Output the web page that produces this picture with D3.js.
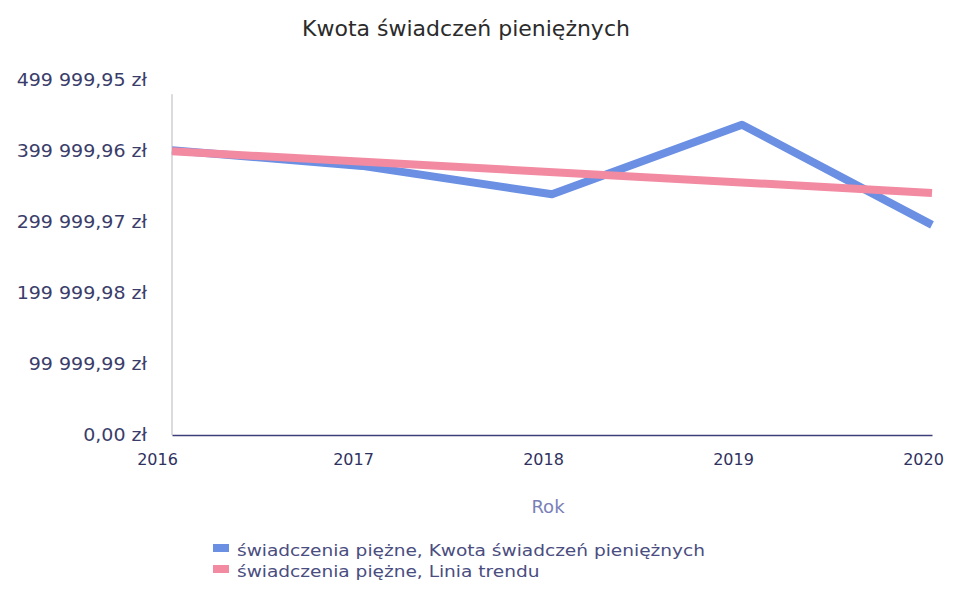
<!DOCTYPE html>
<html>
<head>
<meta charset="utf-8">
<script src="https://cdn.jsdelivr.net/npm/d3@7"></script>
<style>
  html, body { margin: 0; padding: 0; background: #fff; }
  svg { display: block; }
</style>
</head>
<body>
<div id="chart"></div>
<script>
(function () {
  'use strict';

  // Lata na osi X
  const years = [2016, 2017, 2018, 2019, 2020];
  // Kwota świadczeń pieniężnych
  const amounts = [401000, 379000, 339000, 437000, 296000];
  // Linia trendu — punkty końcowe
  const trendYears = [2016, 2020];
  const trendValues = [399500, 341000];
  // Znaczniki osi Y
  const yTicks = [0, 99999.99, 199999.98, 299999.97, 399999.96, 499999.95];
  const yTickLabels = ['0,00 zł', '99 999,99 zł', '199 999,98 zł', '299 999,97 zł', '399 999,96 zł', '499 999,95 zł'];
  const seriesNames = ['świadczenia piężne, Kwota świadczeń pieniężnych', 'świadczenia piężne, Linia trendu'];
  const seriesColors = ['#6a8fe3', '#f28aa2'];

  const FONT = "'DejaVu Sans', Verdana, sans-serif";
  const W = 953, H = 593;
  const svg = d3.select('#chart').append('svg').attr('width', W).attr('height', H);

  const x = d3.scalePoint().domain(years).range([172, 932]);
  const y = d3.scaleLinear().domain([0, 499999.95]).range([435, 80]);

  // Tytuł
  svg.append('text')
    .attr('x', 466).attr('y', 36)
    .attr('text-anchor', 'middle')
    .style('font-family', FONT)
    .style('font-size', '22px')
    .style('fill', '#2b2b2b')
    .text('Kwota świadczeń pieniężnych');

  // Oś Y (etykiety lekko rozciągnięte w poziomie jak na skanie)
  const yAxis = d3.axisLeft(y).tickValues(yTicks)
    .tickFormat((d, i) => yTickLabels[i]).tickSize(0).tickPadding(25);
  const gy = svg.append('g').attr('transform', 'translate(172,0)').call(yAxis);
  gy.select('.domain').remove();
  gy.selectAll('text')
    .style('font-family', FONT)
    .style('font-size', '17px')
    .style('fill', '#3a3d6a')
    .attr('transform', 'translate(-25,0) scale(1.12,1) translate(25,0)');

  svg.append('line')
    .attr('x1', 172).attr('x2', 172)
    .attr('y1', y(480000)).attr('y2', y(0))
    .attr('stroke', '#b8b8c0').attr('stroke-width', 1);

  // Oś X
  const xAxis = d3.axisBottom(x).tickSize(0).tickPadding(19);
  const gx = svg.append('g').attr('transform', `translate(0,${y(0)})`).call(xAxis);
  gx.select('.domain').attr('stroke', '#3d3f7a').attr('stroke-width', 1.5);
  gx.selectAll('text')
    .attr('dx', (d, i) => i === 0 ? -15 : -9)
    .style('font-family', FONT)
    .style('font-size', '16px')
    .style('fill', '#2f3160');

  svg.append('text')
    .attr('x', 548).attr('y', 513)
    .attr('text-anchor', 'middle')
    .style('font-family', FONT)
    .style('font-size', '18px')
    .style('fill', '#7a7fb8')
    .text('Rok');

  // Linie
  const line = d3.line().x(d => x(d[0])).y(d => y(d[1]));

  svg.append('path')
    .datum(years.map((yr, i) => [yr, amounts[i]]))
    .attr('d', line)
    .attr('fill', 'none')
    .attr('stroke', seriesColors[0])
    .attr('stroke-width', 8)
    .attr('stroke-linejoin', 'round');

  svg.append('path')
    .datum(trendYears.map((yr, i) => [yr, trendValues[i]]))
    .attr('d', line)
    .attr('fill', 'none')
    .attr('stroke', seriesColors[1])
    .attr('stroke-width', 8);

  // Legenda
  const leg = svg.append('g').attr('transform', 'translate(213,544)');
  seriesNames.forEach((name, i) => {
    const row = leg.append('g').attr('transform', `translate(0,${i * 21})`);
    row.append('rect').attr('width', 16).attr('height', 8).attr('fill', seriesColors[i]);
    row.append('text')
      .attr('x', 24).attr('y', 12)
      .attr('transform', 'translate(24,0) scale(1.16,1) translate(-24,0)')
      .style('font-family', FONT)
      .style('font-size', '16px')
      .style('fill', '#4a4d80')
      .text(name);
  });
})();
</script>
</body>
</html>
